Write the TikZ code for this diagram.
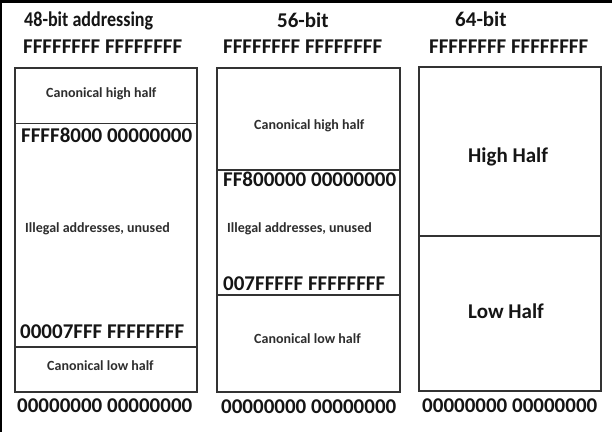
\documentclass[tikz,border=0pt]{standalone}
\usepackage{fontspec}
\setmainfont{Carlito}
\definecolor{boxc}{HTML}{333333}
\definecolor{txt}{HTML}{151515}
\definecolor{txts}{HTML}{2E2E2E}
\begin{document}
\begin{tikzpicture}[x=1pt,y=-1pt,
  box/.style={draw=boxc, line width=1.6pt},
  divl/.style={draw=boxc, line width=1.6pt},
  big/.style={font=\bfseries\fontsize{21}{24}\selectfont, text=txt, inner sep=0pt, anchor=base west},
  small/.style={font=\bfseries\fontsize{14}{16}\selectfont, text=txts, inner sep=0pt, anchor=base west}]
\useasboundingbox (0,0) rectangle (612,432);
\fill[white] (0,0) rectangle (612,432);
\fill[black] (0,0) rectangle (612,3);
\fill[black] (0,0) rectangle (2,432);

% column 1: 48-bit
\node[big] (h1) at (24,26) {\scalebox{0.86}[1]{48-bit addressing}};
\node[big] (t1) at (23,53) {FFFFFFFF FFFFFFFF};
\draw[box] (15,68) rectangle (197,392);
\draw[divl] (15,123.5) -- (197,123.5);
\draw[divl] (15,347) -- (197,347);
\node[small] (a1) at (46,97) {Canonical high half};
\node[big] (a2) at (21,142) {FFFF8000 00000000};
\node[small] (a3) at (25,232) {Illegal addresses, unused};
\node[big] (a4) at (20,338) {00007FFF FFFFFFFF};
\node[small] (a5) at (47,370) {Canonical low half};
\node[big] (b1) at (17,412) {00000000 00000000};

% column 2: 56-bit
\node[big] (h2) at (277,27) {56-bit};
\node[big] (t2) at (223,53) {FFFFFFFF FFFFFFFF};
\draw[box] (217,68) rectangle (400,392);
\draw[divl] (217,170) -- (400,170);
\draw[divl] (217,295) -- (400,295);
\node[small] (c1) at (254,129) {Canonical high half};
\node[big] (c2) at (223,186) {FF800000 00000000};
\node[small] (c3) at (227,232) {Illegal addresses, unused};
\node[big] (c4) at (223,290) {007FFFFF FFFFFFFF};
\node[small] (c5) at (254,343) {Canonical low half};
\node[big] (b2) at (221,413) {00000000 00000000};

% column 3: 64-bit
\node[big] (h3) at (455,26) {64-bit};
\node[big] (t3) at (429,53) {FFFFFFFF FFFFFFFF};
\draw[box] (419,67) rectangle (601,391);
\draw[divl] (419,236) -- (601,236);
\node[big] (d1) at (468,162) {High Half};
\node[big] (d2) at (468,318) {Low Half};
\node[big] (b3) at (422,412) {00000000 00000000};
\end{tikzpicture}
\end{document}
